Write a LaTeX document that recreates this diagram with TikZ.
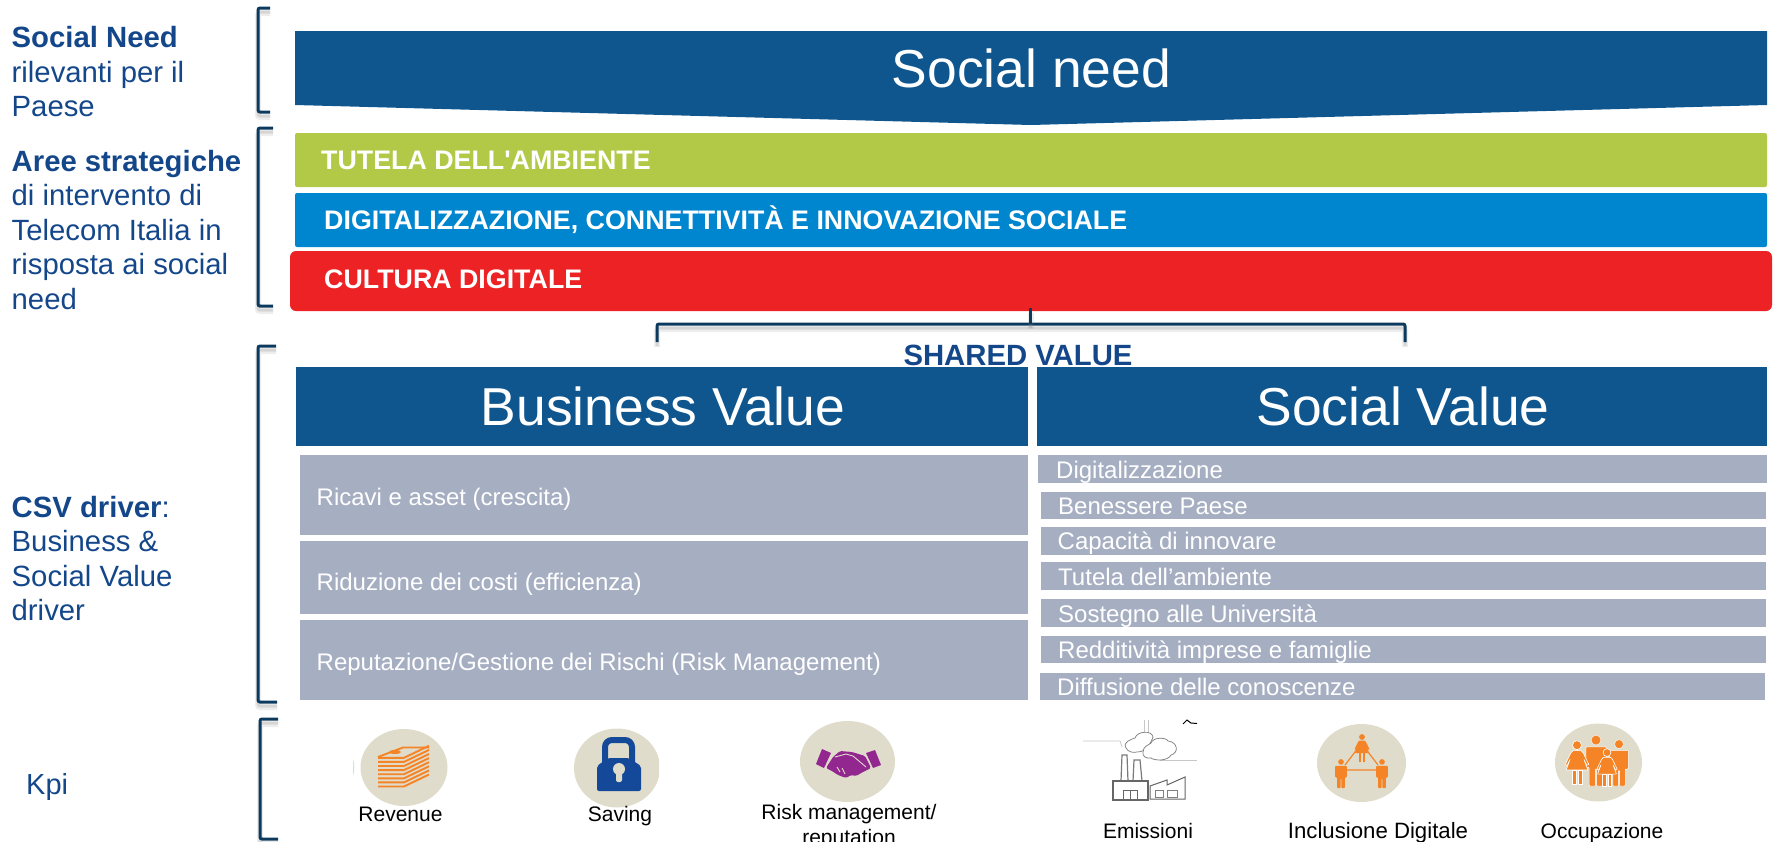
\documentclass[tikz,border=0pt]{standalone}
\usepackage{fontspec}
\setmainfont{Liberation Sans}[Ligatures=TeXOff]
\definecolor{banner}{HTML}{0F568F}
\definecolor{cgreen}{HTML}{B2C947}
\definecolor{cblue}{HTML}{0085CF}
\definecolor{cred}{HTML}{EC2224}
\definecolor{rowgray}{HTML}{A6AEC2}
\definecolor{cream}{HTML}{E0DCCB}
\definecolor{korange}{HTML}{F58426}
\definecolor{lockblue}{HTML}{14499A}
\definecolor{kpurple}{HTML}{92278F}
\definecolor{navytext}{HTML}{14478A}
\definecolor{brk}{HTML}{0B3A5E}
\definecolor{sketch}{HTML}{7A7A7A}
\tikzset{
  box/.style={anchor=north west,inner sep=0,outer sep=0},
  band/.style={box,minimum width=1472pt,minimum height=54pt,rounded corners=2pt},
  head/.style={box,fill=banner,minimum height=79pt},
  row/.style={box,fill=rowgray},
  lab/.style={anchor=base west,inner sep=0},
  bandtext/.style={lab,text=white,font=\bfseries\fontsize{26.8}{30}\selectfont},
  bigtext/.style={anchor=base,inner sep=0,text=white,font=\fontsize{53.4}{60}\selectfont},
  rowtext/.style={lab,text=white,font=\fontsize{24}{28}\selectfont},
  side/.style={anchor=north west,inner sep=0,align=left,text=navytext,font=\fontsize{29.3}{34.6}\selectfont},
  kpitext/.style={anchor=base,inner sep=0,align=center,text=black,font=\fontsize{21}{25}\selectfont},
  bracket/.style={draw=brk,line width=3pt,rounded corners=2pt,
    preaction={draw=gray,opacity=.14,line width=6pt,transform canvas={yshift=-5pt}},
    preaction={draw=gray,opacity=.22,line width=3pt,transform canvas={yshift=-4pt}}},
  skline/.style={draw=sketch,line width=1.2pt},
  faint/.style={draw=black!22,line width=.8pt},
}
\newcommand\kman[4]{\begin{scope}[shift={(#1,#2)},scale=#3]
  \fill[korange,#4] (0,3) circle (2.9);
  \fill[korange,#4,rounded corners=.8pt] (-6,7)--(6,7)--(6,19)--(4,19)--(4,30)--(.4,30)--(.4,20)--(-.4,20)--(-.4,30)--(-4,30)--(-4,19)--(-6,19)--cycle;
\end{scope}}
\newcommand\kwoman[4]{\begin{scope}[shift={(#1,#2)},scale=#3]
  \fill[korange,#4] (0,3) circle (2.9);
  \fill[korange,#4] (-3.2,19)--(-.6,19)--(-.6,28)--(-3.2,28)--cycle;
  \fill[korange,#4] (.6,19)--(3.2,19)--(3.2,28)--(.6,28)--cycle;
  \fill[korange,#4,rounded corners=.6pt] (-2.6,6.5)--(2.6,6.5)--(4,8)--(7.6,15.5)--(6.4,16)--(4.4,12)--(7,19)--(-7,19)--(-4.4,12)--(-6.4,16)--(-7.6,15.5)--(-4,8)--cycle;
\end{scope}}
\begin{document}
\begin{tikzpicture}[x=1pt,y=-1pt]
\useasboundingbox (0,0) rectangle (1773,841);
% left labels
\node[side] (lneed) at (11.5,26.2) {\textbf{Social Need}\\rilevanti per il\\Paese};
\node[side] (larea) at (11.5,149.7) {\textbf{Aree strategiche}\\di intervento di\\Telecom Italia in\\risposta ai social\\need};
\node[side] (lcsv) at (11.5,495.7) {\textbf{CSV driver}:\\Business \&\\Social Value\\driver};
\node[lab,text=navytext,font=\fontsize{29}{34}\selectfont] (lkpi) at (26,794) {Kpi};
% side brackets
\draw[bracket] (270,8) -- (258,8) -- (258,112) -- (270,112);
\draw[bracket] (273,128) -- (258,128) -- (258,306) -- (273,306);
\draw[bracket] (276,346) -- (258,346) -- (258,702) -- (277,702);
\draw[bracket] (278,719) -- (260,719) -- (260,839) -- (278,839);
% social need banner
\fill[banner] (295,31) -- (1767,31) -- (1767,105) -- (1031,125) -- (295,105) -- cycle;
\node[bigtext] (tneed) at (1031.5,87) {Social need};
% strategic bands
\node[band,fill=cgreen] (bgreen) at (295,133) {};
\node[band,fill=cblue] (bblue) at (295,193) {};
\node[box,fill=cred,minimum width=1482pt,minimum height=60pt,rounded corners=6pt] (bred) at (290,251) {};
\node[bandtext] (tgreen) at (321,169) {TUTELA DELL'AMBIENTE};
\node[bandtext] (tblue) at (324,229.5) {DIGITALIZZAZIONE, CONNETTIVITÀ E INNOVAZIONE SOCIALE};
\node[bandtext] (tred) at (324,288) {CULTURA DIGITALE};
% shared value bracket
\coordinate (stemtop) at (1030.5,308);
\coordinate (stemjoin) at (1030.5,324);
\coordinate (sharedl) at (657,342);
\coordinate (sharedr) at (1405,342);
\draw[bracket] (sharedl) -- (sharedl |- stemjoin) -- (sharedr |- stemjoin) -- (sharedr);
\draw[bracket,rounded corners=0pt] (stemtop) -- (stemjoin);
\node[anchor=base,inner sep=0,text=navytext,font=\bfseries\fontsize{29.3}{32}\selectfont] (tshared) at (1018,365) {SHARED VALUE};
% headers
\node[head,minimum width=732pt] (hbus) at (296,367) {};
\node[head,minimum width=730pt] (hsoc) at (1037,367) {};
\node[bigtext] (tbus) at (663,425.5) {Business Value};
\node[bigtext] (tsoc) at (1403,425.5) {Social Value};
% business rows
\node[row,minimum width=728pt,minimum height=80pt] (r1) at (300,455) {};
\node[row,minimum width=728pt,minimum height=73pt] (r2) at (300,541) {};
\node[row,minimum width=728pt,minimum height=80pt] (r3) at (300,620) {};
\node[rowtext] (t1) at (316.5,505) {Ricavi e asset (crescita)};
\node[rowtext] (t2) at (316.5,590) {Riduzione dei costi (efficienza)};
\node[rowtext] (t3) at (316.5,670) {Reputazione/Gestione dei Rischi (Risk Management)};
% social rows
\node[row,minimum width=729pt,minimum height=28pt] (s1) at (1038,455) {};
\node[row,minimum width=725pt,minimum height=27pt] (s2) at (1041,492) {};
\node[row,minimum width=725pt,minimum height=28pt] (s3) at (1041,527) {};
\node[row,minimum width=725pt,minimum height=28pt] (s4) at (1041,562) {};
\node[row,minimum width=725pt,minimum height=28pt] (s5) at (1041,599) {};
\node[row,minimum width=725pt,minimum height=27pt] (s6) at (1041,636) {};
\node[row,minimum width=725pt,minimum height=27pt] (s7) at (1040,673) {};
\node[rowtext] (u1) at (1056,478.5) {Digitalizzazione};
\node[rowtext] (u2) at (1058,514.5) {Benessere Paese};
\node[rowtext] (u3) at (1057.5,549.5) {Capacità di innovare};
\node[rowtext] (u4) at (1058,585.5) {Tutela dell’ambiente};
\node[rowtext] (u5) at (1058,622.5) {Sostegno alle Università};
\node[rowtext] (u6) at (1058,658.5) {Redditività imprese e famiglie};
\node[rowtext] (u7) at (1057,695.5) {Diffusione delle conoscenze};
% KPI: revenue
\fill[cream] (353,759) -- (354,763) -- (354,772) -- (353,776) -- cycle;
\fill[cream] (404,767.5) ellipse [x radius=43.5,y radius=38.5];
\foreach \d in {0,4.1,...,29}{
  \draw[korange,line width=1.9pt] (378,786.5-\d) -- (404,786.5-\d) -- (429,774.5-\d);
}
\draw[korange,line width=1.9pt] (378,757) -- (403,747.5) -- (429,747.5);
\fill[korange] (395,752) ellipse [x radius=6,y radius=2];
% KPI: saving
\begin{scope}
  \clip (560,720) rectangle (659,815);
  \fill[cream] (617,768) ellipse [x radius=43,y radius=39.5];
\end{scope}
\draw[lockblue,line width=6pt,rounded corners=7pt] (605,762) -- (605,740) -- (632,740) -- (632,762);
\fill[lockblue,rounded corners=2pt] (597,791) -- (597,766) -- (608,758) -- (629,758) -- (641,766) -- (641,791) -- cycle;
\fill[cream] (619,769) circle (6);
\fill[cream,rounded corners=2pt] (616,770) rectangle (622,782);
% KPI: risk
\fill[cream] (847.5,761.5) ellipse [x radius=47.5,y radius=40.5];
\fill[kpurple] (822,749) -- (831,753) -- (824,768) -- (816,764) -- cycle;
\fill[kpurple] (866,753) -- (875,750) -- (881,765) -- (873,768) -- cycle;
\fill[kpurple,rounded corners=1.5pt] (833,757) -- (840,751) -- (852,752) -- (865,756) -- (871,768) -- (863,772) -- (856,776) -- (851,775) -- (846,778) -- (838,775) -- (832,771) -- (826,768) -- cycle;
\draw[cream,line width=.9pt] (835,757) -- (846,754) -- (853,756) -- (866,767);
\draw[cream,line width=.9pt] (837,767) -- (840,772);
\draw[cream,line width=.9pt] (842,768) -- (845,774);
% KPI: emissions sketch
\draw[faint] (1144,720) -- (1144,743) (1148,720) -- (1148,743);
\draw[faint] (1083,741) -- (1120,741) -- (1122,747);
\draw[faint] (1160,760) -- (1197,760);
\draw[black,line width=1pt] (1183,724) -- (1187,720) -- (1191,723) -- (1197,723.5);
\draw[skline] (1121,781) -- (1122,755) -- (1127,755) -- (1128,781);
\draw[skline] (1133,781) -- (1134,760) -- (1140,760) -- (1142,781);
\draw[draw=sketch,line width=.7pt,fill=white] (1126,748) .. controls (1122,742) and (1132,739) .. (1135,738) .. controls (1137,731) and (1152,730) .. (1153,737) .. controls (1150,745) and (1146,752) .. (1137,752) .. controls (1133,753) and (1128,752) .. (1126,748) -- cycle;
\draw[draw=sketch,line width=.7pt,fill=white] (1143,752) .. controls (1143,746) and (1149,745) .. (1151,743) .. controls (1153,737) and (1166,737) .. (1168,741) .. controls (1178,742) and (1179,753) .. (1171,755) .. controls (1168,761) and (1155,761) .. (1151,758) .. controls (1146,759) and (1142,756) .. (1143,752) -- cycle;
\draw[draw=black!60,line width=1.1pt] (1113,800) -- (1113,781) -- (1148,781) -- (1148,800) -- cycle;
\draw[draw=black!60,line width=1pt] (1123,800) -- (1123,790) -- (1137,790) -- (1137,800) (1130,790) -- (1130,800);
\draw[draw=black!60,line width=1pt] (1150,799) -- (1150,786) -- (1167,780) -- (1167,785) -- (1185,777) -- (1185,799) -- cycle;
\draw[draw=black!50,line width=.8pt] (1155,790) rectangle (1163,797) (1167,790) rectangle (1177,797);
% KPI: digital inclusion
\fill[cream] (1361.5,763) ellipse [x radius=44.5,y radius=39];
\draw[korange,line width=1.2pt] (1345,765) -- (1358,748) (1365,748) -- (1378,765) (1347,770) -- (1376,770);
\kwoman{1362}{734}{1}{}
\kman{1341}{759}{.97}{}
\kman{1382}{759}{.97}{}
% KPI: employment
\fill[cream] (1598.5,762.5) ellipse [x radius=43.5,y radius=39];
\kman{1619}{739.5}{1.55}{draw=white,line width=.4pt}
\kman{1596}{735}{1.7}{draw=white,line width=.4pt}
\kwoman{1577}{740.5}{1.55}{draw=white,line width=.6pt}
\kwoman{1607}{748.5}{1.35}{draw=white,line width=.6pt}
% KPI labels
\node[kpitext] (krev) at (400.5,821) {Revenue};
\node[kpitext] (ksav) at (620,821) {Saving};
\node[kpitext,anchor=north] (krisk) at (849,804.5) {Risk management/\\reputation};
\node[kpitext] (kemi) at (1148,838) {Emissioni};
\node[kpitext,font=\fontsize{22.2}{25}\selectfont] (kinc) at (1378,838) {Inclusione Digitale};
\node[kpitext] (kocc) at (1602,838) {Occupazione};
\end{tikzpicture}
\end{document}
